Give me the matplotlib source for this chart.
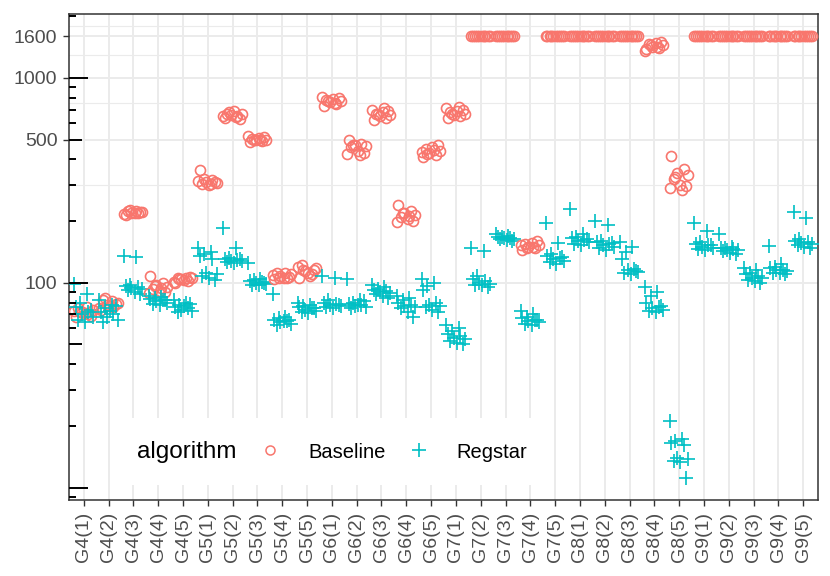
import numpy as np
import matplotlib
matplotlib.use("Agg")
import matplotlib.pyplot as plt
import matplotlib.transforms as mtransforms
from matplotlib.lines import Line2D
from matplotlib.patches import Rectangle

plt.rcParams['font.family'] = ['Liberation Sans', 'DejaVu Sans']

# Categorías del eje X
groups = ["G4(1)", "G4(2)", "G4(3)", "G4(4)", "G4(5)",
          "G5(1)", "G5(2)", "G5(3)", "G5(4)", "G5(5)",
          "G6(1)", "G6(2)", "G6(3)", "G6(4)", "G6(5)",
          "G7(1)", "G7(2)", "G7(3)", "G7(4)", "G7(5)",
          "G8(1)", "G8(2)", "G8(3)", "G8(4)", "G8(5)",
          "G9(1)", "G9(2)", "G9(3)", "G9(4)", "G9(5)"]

# Valores (10 repeticiones por grupo)
baseline = [
    [68, 70, 72, 74, 75, 71, 69, 73, 76, 72],
    [74, 76, 78, 80, 82, 77, 79, 75, 81, 84],
    [215, 218, 220, 222, 225, 219, 221, 217, 223, 227],
    [108, 100, 97, 95, 93, 91, 90, 89, 94, 96],
    [100, 102, 104, 105, 106, 103, 107, 101, 105, 104],
    [355, 318, 312, 308, 305, 300, 310, 315, 302, 320],
    [640, 650, 660, 665, 670, 690, 630, 655, 645, 680],
    [485, 490, 495, 500, 505, 510, 515, 520, 500, 495],
    [104, 106, 108, 110, 112, 105, 107, 109, 111, 106],
    [106, 110, 114, 118, 122, 112, 116, 120, 108, 115],
    [730, 745, 760, 770, 780, 790, 800, 810, 755, 775],
    [500, 475, 470, 465, 460, 440, 430, 425, 420, 468],
    [620, 640, 650, 660, 670, 680, 690, 700, 710, 665],
    [240, 225, 220, 215, 210, 205, 200, 198, 212, 218],
    [410, 420, 430, 440, 450, 460, 470, 435, 445, 425],
    [640, 650, 660, 670, 680, 690, 700, 710, 720, 665],
    [1600] * 10,
    [1600] * 10,
    [145, 148, 150, 152, 155, 157, 160, 153, 150, 147],
    [1600] * 10,
    [1600] * 10,
    [1600] * 10,
    [1600] * 10,
    [1380, 1400, 1420, 1440, 1460, 1480, 1500, 1350, 1410, 1450],
    [414, 360, 345, 335, 320, 300, 295, 290, 285, 330],
    [1600] * 10,
    [1600] * 10,
    [1600] * 10,
    [1600] * 10,
    [1600] * 10,
]

regstar = [
    [99, 88, 80, 76, 72, 70, 68, 66, 64, 74],
    [82, 78, 75, 72, 70, 68, 66, 64, 73, 77],
    [135, 134, 98, 96, 95, 94, 93, 92, 90, 88],
    [86, 85, 84, 83, 82, 81, 80, 79, 78, 82],
    [82, 80, 78, 76, 75, 74, 73, 72, 77, 79],
    [148, 142, 138, 135, 130, 112, 110, 108, 105, 103],
    [184, 148, 132, 130, 129, 128, 127, 126, 125, 131],
    [125, 104, 103, 102, 101, 100, 99, 98, 97, 100],
    [88, 68, 67, 66, 65, 64, 63, 62, 65, 66],
    [80, 78, 77, 76, 75, 74, 73, 72, 71, 75],
    [108, 105, 82, 80, 79, 78, 77, 76, 75, 78],
    [104, 82, 80, 79, 78, 77, 76, 75, 78, 81],
    [97, 95, 93, 92, 91, 90, 89, 88, 86, 84],
    [86, 84, 82, 80, 78, 77, 76, 75, 72, 68],
    [104, 100, 96, 92, 80, 78, 77, 76, 74, 72],
    [62, 60, 58, 56, 55, 54, 53, 52, 51, 50],
    [148, 143, 108, 104, 102, 100, 99, 98, 97, 95],
    [172, 170, 168, 167, 166, 165, 164, 163, 162, 160],
    [73, 70, 68, 67, 66, 65, 64, 63, 62, 66],
    [195, 157, 138, 135, 132, 130, 128, 126, 124, 134],
    [230, 172, 168, 165, 162, 160, 158, 155, 152, 163],
    [200, 192, 160, 158, 155, 152, 150, 148, 145, 156],
    [158, 150, 142, 130, 117, 115, 113, 112, 110, 114],
    [95, 90, 86, 80, 76, 75, 74, 73, 72, 77],
    [21.2, 17.3, 16.9, 16.5, 16.2, 14.0, 13.8, 13.5, 13.3, 11.2],
    [195, 178, 158, 155, 152, 150, 148, 146, 145, 153],
    [172, 150, 148, 147, 146, 145, 144, 143, 140, 138],
    [118, 115, 112, 110, 108, 106, 105, 103, 102, 100],
    [151, 124, 120, 118, 116, 115, 114, 112, 111, 110],
    [222, 208, 163, 160, 158, 156, 155, 153, 150, 148],
]

y_breaks = [100, 500, 1000, 1600]
y_minor = [300, 750, 1300, 1800]

col_base = "#F8766D"
col_reg = "#00BFC4"

# jitter fijo (sin aleatoriedad)
jit = np.array([-0.32, 0.18, -0.08, 0.36, -0.22, 0.05, 0.28, -0.38, 0.12, -0.15])

fig = plt.figure(figsize=(8.3, 5.76), dpi=100)
ax = fig.add_axes([69 / 830, 76 / 576, 749 / 830, 486 / 576])

for i, g in enumerate(groups):
    xb = i + jit[:len(baseline[i])]
    xr = i + np.roll(jit, 3)[:len(regstar[i])]
    ax.plot(xb, baseline[i], ls='none', marker='o', ms=7.2, mfc='none',
            mec=col_base, mew=1.2, zorder=3)
    ax.plot(xr, regstar[i], ls='none', marker='+', ms=10,
            mec=col_reg, mew=1.2, zorder=3)

ax.set_yscale('log')
ax.set_ylim(8.7, 2050)
ax.set_xlim(-0.6, len(groups) - 1 + 0.6)

ax.set_yticks(y_breaks)
ax.set_yticklabels([str(v) for v in y_breaks])
ax.yaxis.set_minor_locator(matplotlib.ticker.FixedLocator(y_minor))
ax.yaxis.set_minor_formatter(matplotlib.ticker.NullFormatter())
ax.set_xticks(range(len(groups)))
ax.set_xticklabels(groups, rotation=90)

ax.tick_params(axis='both', which='major', direction='out', length=4.3,
               width=1.0, color='#333333', labelcolor='#4D4D4D',
               labelsize=14, pad=4)
ax.tick_params(axis='y', which='minor', length=0)

ax.set_axisbelow(True)
ax.grid(True, which='major', color='#EBEBEB', lw=1.4)
ax.grid(True, which='minor', axis='y', color='#EBEBEB', lw=0.8)
for s in ax.spines.values():
    s.set_color('#333333')
    s.set_linewidth(1.1)

# marcas logaritmicas del lado izquierdo
trans = mtransforms.blended_transform_factory(ax.transAxes, ax.transData)
for dec in [1, 10, 100, 1000]:
    for k in range(1, 10):
        v = k * dec
        if v < 8.7 or v > 2050:
            continue
        L = 19 if k == 1 else (13 if k == 5 else 7)
        ax.plot([0, L / 749], [v, v], transform=trans, color='black',
                lw=1.4, solid_capstyle='butt', zorder=4)

# leyenda
ax.add_patch(Rectangle(((120 - 69) / 749, 15 / 486), 425 / 749, 67 / 486,
                       transform=ax.transAxes, facecolor='white',
                       edgecolor='none', zorder=1.5))
ax.text((137 - 69) / 749, 48 / 486, "algorithm", transform=ax.transAxes,
        ha='left', va='center', fontsize=17.5, color='black', zorder=5)
handles = [Line2D([], [], ls='none', marker='o', ms=6.5, mfc='none',
                  mec=col_base, mew=1.1),
           Line2D([], [], ls='none', marker='+', ms=10, mec=col_reg, mew=1.2)]
leg = ax.legend(handles, ["Baseline", "Regstar"], ncol=2, frameon=False,
                loc='center left', bbox_to_anchor=((260 - 69) / 749, 48 / 486),
                handlelength=1.0, handletextpad=1.39, columnspacing=1.14,
                fontsize=14.5, borderpad=0, borderaxespad=0)
leg.set_zorder(5)

plt.savefig('out.png', dpi=100)
